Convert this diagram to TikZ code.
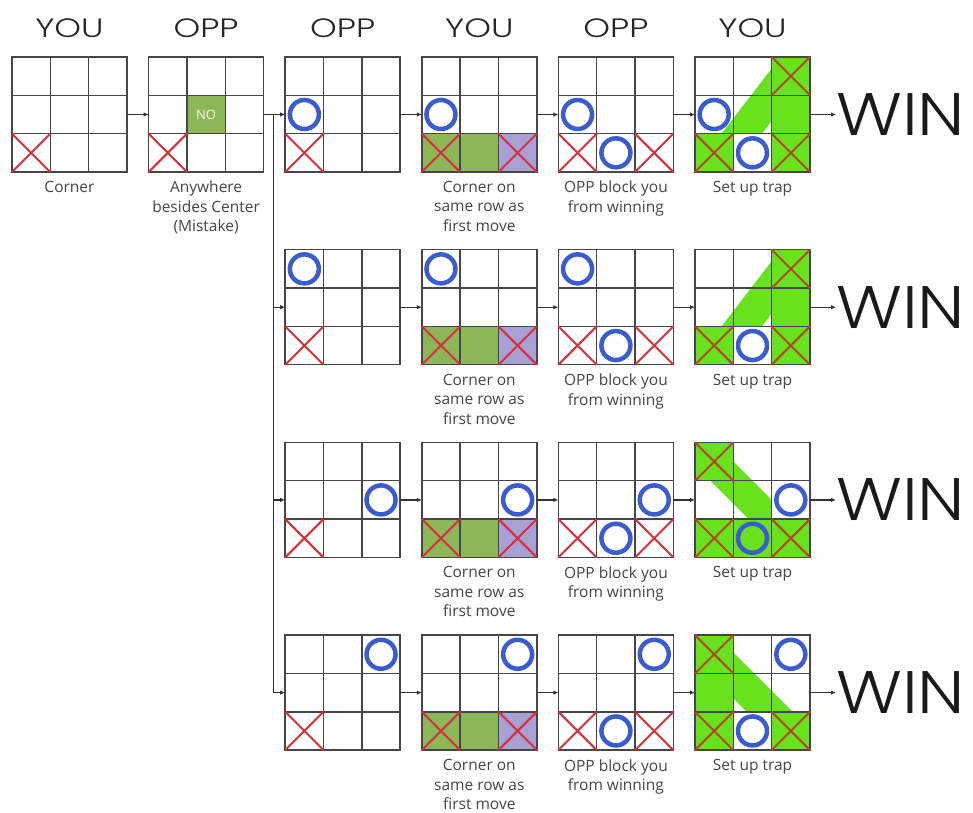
\documentclass[tikz,border=0pt]{standalone}
\usepackage{fontspec}
\setmainfont{Open Sans}
\newfontfamily\hfont[FakeStretch=1.28]{Poppins Light}
\newfontfamily\wfont[FakeStretch=1.15]{Poppins Light}
\usetikzlibrary{arrows.meta}
\definecolor{gridc}{RGB}{70,70,70}
\definecolor{xred}{RGB}{214,48,60}
\definecolor{xbrown}{RGB}{176,74,34}
\definecolor{oblue}{RGB}{58,92,206}
\definecolor{olive}{RGB}{141,182,88}
\definecolor{lav}{RGB}{168,160,212}
\definecolor{lime}{RGB}{104,226,28}
\definecolor{labc}{RGB}{70,70,70}
\def\cs{38.333}
\tikzset{
 gridbox/.style={minimum width=115pt, minimum height=115pt, inner sep=0pt, outer sep=0pt},
 gl/.style={draw=gridc, line width=1.5pt},
 xm/.style={draw=xred, line width=2pt},
 xb/.style={draw=xbrown, line width=2pt},
 om/.style={draw=oblue, line width=4.5pt},
 arr/.style={draw=black!80, line width=1.3pt, -{Latex[length=5pt,width=4.5pt]}},
 lab/.style={font=\fontsize{15.5}{19.5}\selectfont, text=labc, align=center, anchor=north, inner sep=0pt, yshift=-9pt},
 head/.style={font=\hfont\fontsize{26.5}{30}\selectfont, text=black!85, anchor=base, inner sep=0pt},
 win/.style={font=\wfont\fontsize{60}{60}\selectfont, text=black!90, anchor=west, inner sep=0pt},
 nolab/.style={font=\fontsize{13}{13}\selectfont, text=white!92!olive, inner sep=0pt}
}
\newcommand\cellX[3][xm]{\draw[#1] ({#2*\cs},{#3*\cs}) -- ++(\cs,\cs) ({(#2+1)*\cs},{#3*\cs}) -- ++(-\cs,\cs);}
\newcommand\cellO[3][]{\draw[om,#1] ({(#2+0.5)*\cs},{(#3+0.5)*\cs}) circle[radius=14.5];}
\newcommand\cellF[3]{\fill[#3] ({#1*\cs},{#2*\cs}) rectangle ++(\cs,\cs);}
\newcommand\gridlines{\draw[gl] (\cs,0) -- (\cs,115) ({2*\cs},0) -- ({2*\cs},115) (0,\cs) -- (115,\cs) (0,{2*\cs}) -- (115,{2*\cs}); \draw[gl] (0,0) rectangle (115,115);}
\newcommand\board[3]{\begin{scope}[shift={(#1.north west)}]#2\gridlines#3\end{scope}}
\newcommand\bandUp{\begin{scope}[scale=38.333]\fill[lime] (0,3) -- (0,2.9) -- (2,0.3) -- (2,1.67) -- (0.98,3) -- cycle;\end{scope}}
\newcommand\bandDownA{\begin{scope}[scale=38.333]\fill[lime] (0.5,0) -- (2,1.5) -- (2,2.6) -- (0,0.6) -- (0,0) -- cycle;\end{scope}}
\newcommand\bandDownB{\begin{scope}[scale=38.333]\fill[lime] (0.55,0) -- (3,2.45) -- (3,3) -- (2.35,3) -- (0,0.65) -- (0,0) -- cycle;\end{scope}}
\newcommand\rowfill{\cellF{0}{2}{olive}\cellF{1}{2}{olive}\cellF{2}{2}{lav}}
\begin{document}
\begin{tikzpicture}[x=1pt,y=-1pt]
\fill[white] (0,0) rectangle (973,812);
\useasboundingbox (0,0) rectangle (973,812);
% headers
\node[head] (h1) at (69.5,37) {YOU};
\node[head] (h2) at (206.1,37) {OPP};
\node[head] (h3) at (342.7,37) {OPP};
\node[head] (h4) at (479.3,37) {YOU};
\node[head] (h5) at (615.9,37) {OPP};
\node[head] (h6) at (752.5,37) {YOU};
% boards
\node[gridbox] (g11) at (69.5,114.5) {};
\node[gridbox] (g12) at (206.1,114.5) {};
\node[gridbox] (g13) at (342.7,114.5) {};
\node[gridbox] (g14) at (479.3,114.5) {};
\node[gridbox] (g15) at (615.9,114.5) {};
\node[gridbox] (g16) at (752.5,114.5) {};
\node[gridbox] (g23) at (342.7,307.2) {};
\node[gridbox] (g24) at (479.3,307.2) {};
\node[gridbox] (g25) at (615.9,307.2) {};
\node[gridbox] (g26) at (752.5,307.2) {};
\node[gridbox] (g33) at (342.7,499.9) {};
\node[gridbox] (g34) at (479.3,499.9) {};
\node[gridbox] (g35) at (615.9,499.9) {};
\node[gridbox] (g36) at (752.5,499.9) {};
\node[gridbox] (g43) at (342.7,692.6) {};
\node[gridbox] (g44) at (479.3,692.6) {};
\node[gridbox] (g45) at (615.9,692.6) {};
\node[gridbox] (g46) at (752.5,692.6) {};
% row 1
\board{g11}{}{\cellX{0}{2}}
\board{g12}{\cellF{1}{1}{olive}\node[nolab] (no) at ({1.5*\cs},{1.5*\cs}) {NO};}{\cellX{0}{2}}
\board{g13}{}{\cellO{0}{1}\cellX{0}{2}}
\board{g14}{\rowfill}{\cellO{0}{1}\cellX{0}{2}\cellX{2}{2}}
\board{g15}{}{\cellO{0}{1}\cellX{0}{2}\cellO{1}{2}\cellX{2}{2}}
\board{g16}{\bandUp\cellF{0}{2}{lime}\cellF{2}{0}{lime}\cellF{2}{1}{lime}\cellF{2}{2}{lime}\cellF{1}{2}{white}}{\cellO[fill=white]{0}{1}\cellX[xb]{0}{2}\cellO[fill=white]{1}{2}\cellX[xb]{2}{2}\cellX[xb]{2}{0}}
% row 2
\board{g23}{}{\cellO{0}{0}\cellX{0}{2}}
\board{g24}{\rowfill}{\cellO{0}{0}\cellX{0}{2}\cellX{2}{2}}
\board{g25}{}{\cellO{0}{0}\cellX{0}{2}\cellO{1}{2}\cellX{2}{2}}
\board{g26}{\bandUp\cellF{0}{2}{lime}\cellF{2}{0}{lime}\cellF{2}{1}{lime}\cellF{2}{2}{lime}\cellF{1}{2}{white}}{\cellX[xb]{0}{2}\cellO[fill=white]{1}{2}\cellX[xb]{2}{2}\cellX[xb]{2}{0}}
% row 3
\board{g33}{}{\cellO{2}{1}\cellX{0}{2}}
\board{g34}{\rowfill}{\cellO{2}{1}\cellX{0}{2}\cellX{2}{2}}
\board{g35}{}{\cellO{2}{1}\cellX{0}{2}\cellO{1}{2}\cellX{2}{2}}
\board{g36}{\bandDownA\cellF{0}{0}{lime}\cellF{0}{2}{lime}\cellF{1}{2}{lime}\cellF{2}{2}{lime}}{\cellX[xb]{0}{0}\cellO[fill=white]{2}{1}\cellX[xb]{0}{2}\cellO{1}{2}\cellX[xb]{2}{2}}
% row 4
\board{g43}{}{\cellO{2}{0}\cellX{0}{2}}
\board{g44}{\rowfill}{\cellO{2}{0}\cellX{0}{2}\cellX{2}{2}}
\board{g45}{}{\cellO{2}{0}\cellX{0}{2}\cellO{1}{2}\cellX{2}{2}}
\board{g46}{\bandDownB\cellF{0}{0}{lime}\cellF{0}{1}{lime}\cellF{0}{2}{lime}\cellF{2}{2}{lime}\cellF{1}{2}{white}}{\cellX[xb]{0}{0}\cellO{2}{0}\cellX[xb]{0}{2}\cellO[fill=white]{1}{2}\cellX[xb]{2}{2}}
% labels
\node[lab] (l11) at (g11.south) {Corner};
\node[lab] (l12) at (g12.south) {Anywhere\\besides Center\\(Mistake)};
\foreach \r in {1,2,3,4}{
 \node[lab] (l\r4) at (g\r4.south) {Corner on\\same row as\\first move};
 \node[lab] (l\r5) at (g\r5.south) {OPP block you\\from winning};
 \node[lab] (l\r6) at (g\r6.south) {Set up trap};
}
% WIN
\node[win] (w1) at (836,114.5) {WIN};
\node[win] (w2) at (836,307.2) {WIN};
\node[win] (w3) at (836,499.9) {WIN};
\node[win] (w4) at (836,692.6) {WIN};
% connectors
\coordinate (tr) at (273.5,114.5);
\draw[arr] (g11.east) -- (g12.west);
\draw[arr] (g12.east) -- (g13.west);
\draw[arr] (tr) |- (g43.west);
\draw[arr] (tr |- g23.west) -- (g23.west);
\draw[arr] (tr |- g33.west) -- (g33.west);
\foreach \r in {1,2,3,4}{
 \draw[arr] (g\r3.east) -- (g\r4.west);
 \draw[arr] (g\r4.east) -- (g\r5.west);
 \draw[arr] (g\r5.east) -- (g\r6.west);
 \draw[arr] (g\r6.east) -- (w\r.west);
}
\end{tikzpicture}
\end{document}
